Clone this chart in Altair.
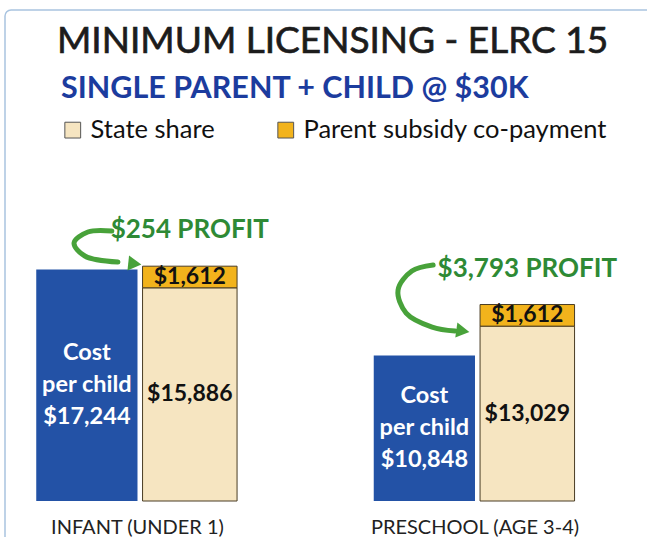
import altair as alt
import pandas as pd

# ---- data ----
title_text = "MINIMUM LICENSING - ELRC 15"
subtitle_text = "SINGLE PARENT + CHILD @ $30K"
categories = ["INFANT (UNDER 1)", "PRESCHOOL (AGE 3-4)"]
cost_per_child = [17244, 10848]
state_share = [15886, 13029]
parent_copay = [1612, 1612]
legend_labels = ["State share", "Parent subsidy co-payment"]

# curved annotation arrows: offsets from each group's centre (x, band units)
# and from the top of the funding stack (y, value units)
arrow_dx = [[-0.076, -0.147, -0.188, -0.156, -0.058],
            [-0.124, -0.187, -0.228, -0.204, -0.127, -0.059]]
arrow_dy = [[2623, 2548, 1729, 760, 313],
            [2943, 2496, 1080, -633, -1677, -1975]]
head_dx = [-0.008, -0.036]
head_dy = [180, -1975]
head_angle = [6, 8]

BLUE = "#2352a6"
CREAM = "#f6e5c1"
ORANGE = "#f2b31c"
GREEN_TXT = "#2e8a35"
GREEN_ARW = "#48a23a"
FONT = "Lato"

cost_rows, stack_rows, profit_rows, arrow_rows, head_rows, cat_rows = [], [], [], [], [], []
for i, cat in enumerate(categories):
    c = cost_per_child[i]
    s = state_share[i]
    p = parent_copay[i]
    top = s + p
    cost_rows.append(dict(cat=cat, x0=i - 0.30, x1=i + 0.0, lo=0, hi=c, mid=c / 2,
                          xm=i - 0.15, label=f"Cost\nper child\n${c:,}"))
    stack_rows.append(dict(cat=cat, series=legend_labels[0], x0=i + 0.015, x1=i + 0.295,
                           lo=0, hi=s, mid=s / 2, xm=i + 0.155, label=f"${s:,}"))
    stack_rows.append(dict(cat=cat, series=legend_labels[1], x0=i + 0.015, x1=i + 0.295,
                           lo=s, hi=top, mid=s + p / 2, xm=i + 0.155, label=f"${p:,}"))
    profit_rows.append(dict(cat=cat, xm=i + 0.155, top=top, label=f"${top - c:,} PROFIT"))
    for j, (dx, dy) in enumerate(zip(arrow_dx[i], arrow_dy[i])):
        arrow_rows.append(dict(cat=cat, k=j, ax=i + dx, ay=top + dy))
    head_rows.append(dict(cat=cat, ax=i + head_dx[i], ay=top + head_dy[i], ang=head_angle[i]))
    cat_rows.append(dict(cat=cat, xm=float(i), zero=0))

cost_df = pd.DataFrame(cost_rows)
stack_df = pd.DataFrame(stack_rows)
profit_df = pd.DataFrame(profit_rows)
arrow_df = pd.DataFrame(arrow_rows)
head_df = pd.DataFrame(head_rows)
cat_df = pd.DataFrame(cat_rows)
one = pd.DataFrame({"title": [title_text], "subtitle": [subtitle_text]})

xscale = alt.Scale(domain=[-0.3422, 1.4889], nice=False, zero=False)
yscale = alt.Scale(domain=[0, 25410], nice=False, zero=False)

frame = alt.Chart(one).mark_rect(
    fillOpacity=0, stroke="#a9c4e0", strokeWidth=1.5, cornerRadius=6
).encode(x=alt.value(-17), x2=alt.value(900), y=alt.value(-150), y2=alt.value(900))

title = alt.Chart(one).mark_text(
    font=FONT, fontSize=37, color="#1c1c1c", stroke="#1c1c1c", strokeWidth=0.7,
    align="left", baseline="alphabetic"
).encode(x=alt.value(35), y=alt.value(-107), text="title:N")

subtitle = alt.Chart(one).mark_text(
    font=FONT, fontSize=30.5, fontWeight="bold", color="#1c3c9e",
    align="left", baseline="alphabetic"
).encode(x=alt.value(39), y=alt.value(-62), text="subtitle:N")

cost_bars = alt.Chart(cost_df).mark_rect(color=BLUE).encode(
    x=alt.X("x0:Q", scale=xscale,
            axis=alt.Axis(labels=False, ticks=False, title=None, grid=False,
                          domainColor="#cdd3d8", domainWidth=1.5)),
    x2="x1:Q",
    y=alt.Y("lo:Q", scale=yscale, axis=None),
    y2="hi:Q",
)

stack_bars = alt.Chart(stack_df).mark_rect(stroke="#4a3c24", strokeWidth=1).encode(
    x=alt.X("x0:Q", scale=xscale, axis=None),
    x2="x1:Q",
    y=alt.Y("lo:Q", scale=yscale, axis=None),
    y2="hi:Q",
    color=alt.Color(
        "series:N",
        scale=alt.Scale(domain=legend_labels, range=[CREAM, ORANGE]),
        legend=alt.Legend(
            orient="none", legendX=38, legendY=-43, direction="horizontal",
            title=None, symbolType="square", symbolSize=250,
            symbolStrokeColor="#555555", symbolStrokeWidth=1, symbolOpacity=1,
            labelFont=FONT, labelFontSize=25.5, labelColor="#111111",
            columnPadding=58, labelOffset=5, padding=0, labelLimit=400,
        ),
    ),
)

cost_text = alt.Chart(cost_df).mark_text(
    font=FONT, fontWeight="bold", fontSize=23.5, color="white",
    lineBreak="\n", lineHeight=32, align="center", baseline="middle", dy=-32
).encode(x=alt.X("xm:Q", scale=xscale, axis=None),
         y=alt.Y("mid:Q", scale=yscale, axis=None), text="label:N")

stack_text = alt.Chart(stack_df).mark_text(
    font=FONT, fontWeight="bold", fontSize=23, color="#111111",
    align="center", baseline="middle"
).encode(x=alt.X("xm:Q", scale=xscale, axis=None),
         y=alt.Y("mid:Q", scale=yscale, axis=None), text="label:N")

profit_text = alt.Chart(profit_df).mark_text(
    font=FONT, fontWeight="bold", fontSize=26, color=GREEN_TXT,
    align="center", baseline="middle", dy=-36
).encode(x=alt.X("xm:Q", scale=xscale, axis=None),
         y=alt.Y("top:Q", scale=yscale, axis=None), text="label:N")

arrows = alt.Chart(arrow_df).mark_line(
    interpolate="catmull-rom", strokeWidth=5, color=GREEN_ARW, strokeCap="round"
).encode(x=alt.X("ax:Q", scale=xscale, axis=None),
         y=alt.Y("ay:Q", scale=yscale, axis=None),
         detail="cat:N", order="k:Q")

heads = alt.Chart(head_df).mark_point(
    shape="triangle-right", filled=True, size=230, color=GREEN_ARW, opacity=1
).encode(x=alt.X("ax:Q", scale=xscale, axis=None),
         y=alt.Y("ay:Q", scale=yscale, axis=None),
         angle=alt.Angle("ang:Q", scale=None))

cat_text = alt.Chart(cat_df).mark_text(
    font=FONT, fontSize=20, color="#222222", align="center", baseline="middle", dy=27
).encode(x=alt.X("xm:Q", scale=xscale, axis=None),
         y=alt.Y("zero:Q", scale=yscale, axis=None), text="cat:N")

chart = alt.layer(
    frame, title, subtitle, cost_bars, stack_bars, cost_text, stack_text,
    arrows, heads, profit_text, cat_text
).properties(
    width=618, height=341,
    autosize=alt.AutoSizeParams(type="none"),
    padding={"left": 22, "top": 160, "right": 7, "bottom": 36},
    background="white",
).configure_view(strokeWidth=0)

chart.save("out.html", embed_options={"renderer": "svg", "actions": False})
